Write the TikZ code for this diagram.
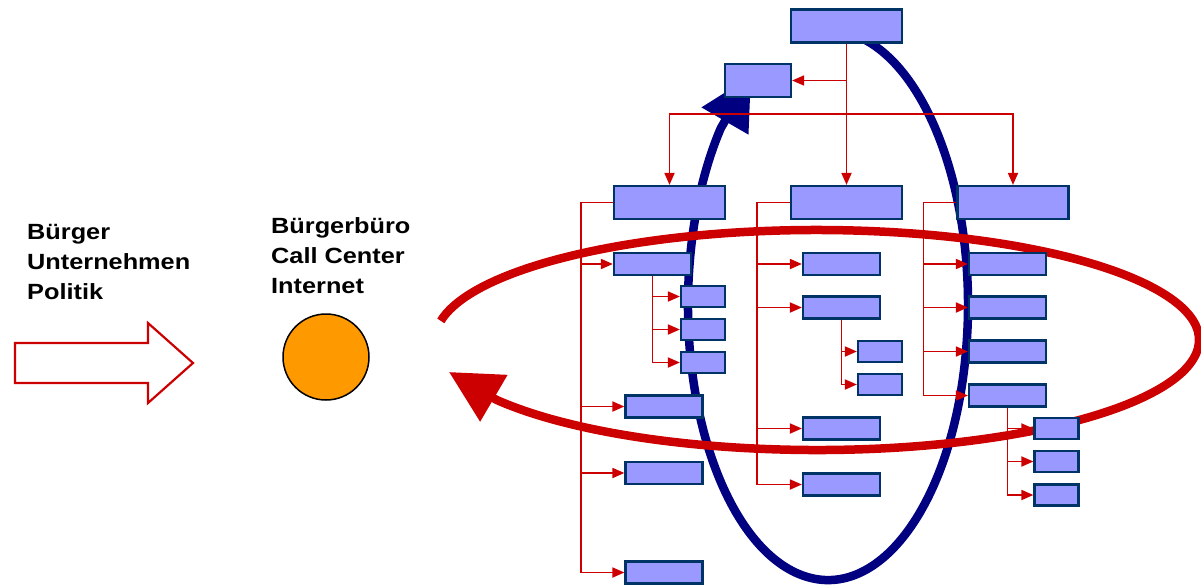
\documentclass[tikz,border=0pt]{standalone}
\usepackage{fontspec}
\newfontfamily\labelfont{Liberation Sans}[FakeStretch=1.15]
\usetikzlibrary{arrows.meta}
\definecolor{lavender}{HTML}{9999FF}
\definecolor{boxline}{HTML}{003366}
\definecolor{ringblue}{HTML}{000080}
\definecolor{linkred}{HTML}{CC0000}
\definecolor{hubfill}{HTML}{FF9900}
\begin{document}
\begin{tikzpicture}[x=1pt, y=-1pt,
    box/.style={draw=boxline, fill=lavender, line width=2.2pt, inner sep=0pt},
    bigbox/.style={box, minimum width=111pt, minimum height=33pt},
    midbox/.style={box, minimum width=77pt, minimum height=22pt},
    smallbox/.style={box, minimum width=44pt, minimum height=21pt},
    link/.style={linkred, line width=1.8pt, -{Triangle[length=12pt,width=10pt]}},
    ring/.style={line width=8.5pt, -{Triangle[length=52pt,width=52pt]}},
    txt/.style={font=\labelfont\bfseries\fontsize{22pt}{30pt}\selectfont, align=left, inner sep=0pt, anchor=north west}]
    \useasboundingbox (0,0) rectangle (1201,584);

    \node[txt] (who) at (27,224) {Bürger\\Unternehmen\\Politik};
    \node[txt] (channels) at (271,217) {Bürgerbüro\\Call Center\\Internet};
    \draw[linkred, line width=2.2pt, fill=white] (15,343) -- (148,343) -- (148,323) -- (193,363)
        -- (148,403) -- (148,383) -- (15,383) -- cycle;
    \node[circle, draw, fill=hubfill, line width=1.5pt, minimum size=86pt, inner sep=0pt] (hub) at (326,357) {};

    \coordinate (bluetip) at (751,76);
    \coordinate (redtip) at (449,372);
    \draw[ring, ringblue] (852.3,34.2) arc[start angle=-80, end angle=220, x radius=140, y radius=275] -- (bluetip);
    \draw[ring, linkred] (440.8,320.9) arc[start angle=190, end angle=507, x radius=382, y radius=110] -- (redtip);

    \node[bigbox] (top) at (846.5,26) {};
    \node[box, minimum width=66pt, minimum height=33pt] (up) at (758,80.5) {};
    \node[bigbox] (L) at (669.5,202.5) {};
    \node[bigbox] (M) at (846.5,202.5) {};
    \node[bigbox] (R) at (1013,202.5) {};

    \node[midbox] (LA) at (652.5,264) {};
    \node[smallbox] (La1) at (703,296.5) {};
    \node[smallbox] (La2) at (703,329.5) {};
    \node[smallbox] (La3) at (703,362.5) {};
    \node[midbox] (LB) at (664,406.5) {};
    \node[midbox] (LC) at (664,473) {};
    \node[midbox] (LD) at (664,572.5) {};

    \node[midbox] (M1) at (841.5,264) {};
    \node[midbox] (M2) at (841.5,307.5) {};
    \node[smallbox] (Ma1) at (880,351.5) {};
    \node[smallbox] (Ma2) at (880,384.5) {};
    \node[midbox] (M3) at (841.5,428.5) {};
    \node[midbox] (M4) at (841.5,484.5) {};

    \node[midbox] (R1) at (1007.5,264) {};
    \node[midbox] (R2) at (1007.5,307.5) {};
    \node[midbox] (R3) at (1007.5,351.5) {};
    \node[midbox] (R4) at (1007.5,395.5) {};
    \node[smallbox] (Ra1) at (1056.5,428.5) {};
    \node[smallbox] (Ra2) at (1056.5,461.5) {};
    \node[smallbox] (Ra3) at (1056.5,495) {};

    \draw[link] (top.south) -- (M.north);
    \draw[link] (top.south |- up.east) -- (up.east);
    \coordinate (bar) at (846.5,114);
    \draw[link] (bar) -| (L.north);
    \draw[link] (bar) -| (R.north);

    \coordinate (Ls) at ([xshift=-32pt]L.west);
    \coordinate (Ms) at ([xshift=-33pt]M.west);
    \coordinate (Rs) at ([xshift=-33pt]R.west);
    \foreach \c in {LA,LB,LC,LD} \draw[link] (L.west) -- (Ls) |- (\c.west);
    \foreach \c in {M1,M2,M3,M4} \draw[link] (M.west) -- (Ms) |- (\c.west);
    \foreach \c in {R1,R2,R3,R4} \draw[link] (R.west) -- (Rs) |- (\c.west);
    \foreach \c in {La1,La2,La3} \draw[link] (LA.south) |- (\c.west);
    \foreach \c in {Ma1,Ma2} \draw[link] (M2.south) |- (\c.west);
    \foreach \c in {Ra1,Ra2,Ra3} \draw[link] (R4.south) |- (\c.west);
\end{tikzpicture}
\end{document}
